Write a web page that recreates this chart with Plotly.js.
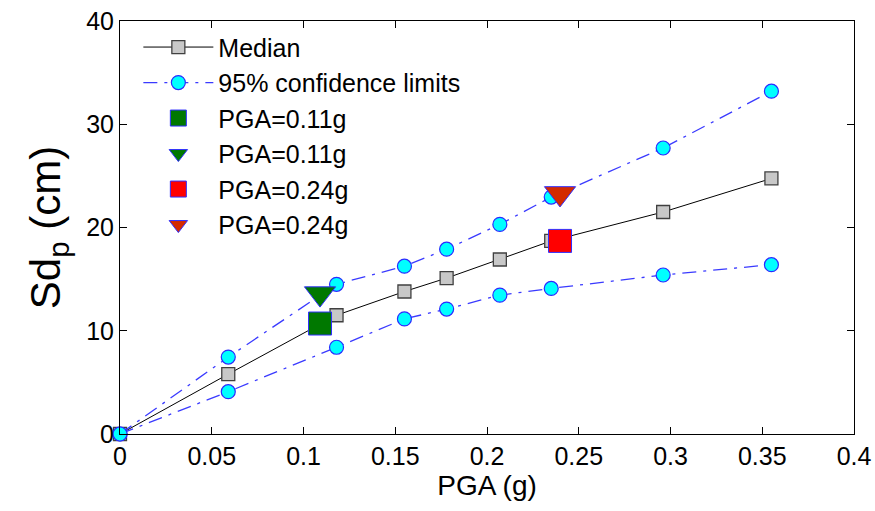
<!DOCTYPE html>
<html>
<head>
<meta charset="utf-8">
<script src="https://cdn.plot.ly/plotly-3.0.1.min.js"></script>
<style>html,body{margin:0;padding:0;background:#fff}#chart{width:875px;height:511px}</style>
</head>
<body>
<div id="chart"></div>
<script>
// Data
const pga = [0, 0.059, 0.118, 0.155, 0.178, 0.207, 0.235, 0.296, 0.355];
const median = [0, 5.8, 11.5, 13.8, 15.1, 16.9, 18.7, 21.5, 24.75];
const upper = [0, 7.45, 14.5, 16.25, 17.9, 20.3, 22.95, 27.7, 33.2];
const lower = [0, 4.1, 8.4, 11.15, 12.1, 13.45, 14.1, 15.4, 16.4];

const eventLabels = ["PGA=0.11g", "PGA=0.11g", "PGA=0.24g", "PGA=0.24g"];
const eventX = [0.109, 0.109, 0.2398, 0.2398];
const eventY = [10.7, 13.6, 18.7, 23.3];

const xTicks = [0, 0.05, 0.1, 0.15, 0.2, 0.25, 0.3, 0.35, 0.4];
const xTickText = ["0", "0.05", "0.1", "0.15", "0.2", "0.25", "0.3", "0.35", "0.4"];
const yTicks = [0, 10, 20, 30, 40];

const FONT = "Arial, 'Liberation Sans', sans-serif";
const limitLine = {color: '#3a3aff', width: 1.3, dash: '14px,7px,3px,7px'};
const limitMarker = {symbol: 'circle', size: 14, color: '#00ffff', line: {color: '#2a2aff', width: 1.2}};

const traces = [
  {x: pga, y: median, name: 'Median', mode: 'lines+markers', type: 'scatter', cliponaxis: false,
   line: {color: '#000', width: 1},
   marker: {symbol: 'square', size: 13, color: '#c8c8c8', line: {color: '#404040', width: 1.3}}},
  {x: pga, y: upper, name: '95% confidence limits', mode: 'lines+markers', type: 'scatter', cliponaxis: false,
   line: limitLine, marker: limitMarker, legendgroup: 'ci'},
  {x: pga, y: lower, name: '95% confidence limits', mode: 'lines+markers', type: 'scatter', cliponaxis: false,
   line: limitLine, marker: limitMarker, legendgroup: 'ci', showlegend: false},
  {x: [eventX[0]], y: [eventY[0]], name: eventLabels[0], mode: 'markers', type: 'scatter',
   marker: {symbol: 'square', size: 23, color: '#007800', line: {color: '#3030ff', width: 1}}},
  {x: [eventX[1]], y: [eventY[1]], name: eventLabels[1], mode: 'markers', type: 'scatter',
   marker: {symbol: 'triangle-down', size: 27, color: '#007800', line: {color: '#3030ff', width: 1}}},
  {x: [eventX[2]], y: [eventY[2]], name: eventLabels[2], mode: 'markers', type: 'scatter',
   marker: {symbol: 'square', size: 23, color: '#ff0000', line: {color: '#3030ff', width: 1}}},
  {x: [eventX[3]], y: [eventY[3]], name: eventLabels[3], mode: 'markers', type: 'scatter',
   marker: {symbol: 'triangle-down', size: 27, color: '#d42a00', line: {color: '#3030ff', width: 1}}}
];

const axisCommon = {
  showgrid: false, zeroline: false, showline: true, linecolor: '#000', linewidth: 1,
  mirror: 'ticks', ticks: 'inside', ticklen: 7, tickcolor: '#000',
  tickfont: {family: FONT, size: 25, color: '#000'}
};

const layout = {
  width: 875, height: 511,
  margin: {l: 120, r: 21, t: 21, b: 77},
  paper_bgcolor: '#fff', plot_bgcolor: '#fff',
  font: {family: FONT, color: '#000'},
  showlegend: true,
  legend: {x: 0.025, y: 0.992, xanchor: 'left', yanchor: 'top', itemwidth: 70,
           bgcolor: 'rgba(255,255,255,0)', borderwidth: 0,
           font: {family: FONT, size: 25, color: '#000'}, tracegroupgap: 0},
  xaxis: Object.assign({}, axisCommon, {
    range: [0, 0.4], tickvals: xTicks, ticktext: xTickText,
    title: {text: 'PGA (g)', font: {family: FONT, size: 28, color: '#000'}, standoff: 6}
  }),
  yaxis: Object.assign({}, axisCommon, {
    range: [0, 40], tickvals: yTicks,
    title: {text: 'Sd<sub>p</sub> (cm)', font: {family: FONT, size: 42, color: '#000'}, standoff: 12}
  })
};

Plotly.newPlot('chart', traces, layout, {displayModeBar: false, staticPlot: true});
</script>
</body>
</html>
